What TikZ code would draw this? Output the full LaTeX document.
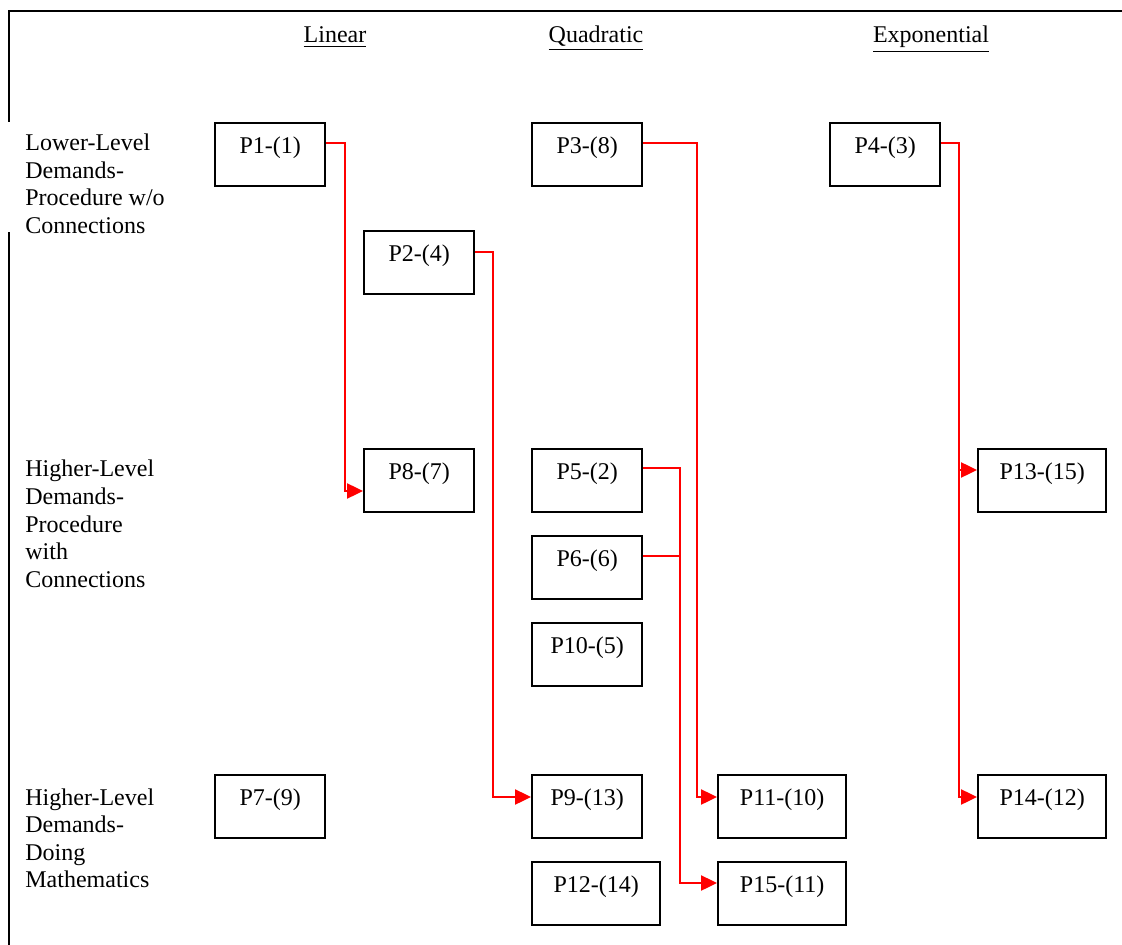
\documentclass[tikz,border=0pt]{standalone}
\usepackage{fontspec}
\setmainfont{Liberation Serif}
\usetikzlibrary{arrows.meta}
\tikzset{
  pbox/.style={draw, line width=1.2pt, inner xsep=0pt, inner ysep=0pt,
    text height=15pt, text depth=16.5pt, minimum width=55pt, anchor=north west},
  wbox/.style={pbox, minimum width=64pt},
  conn/.style={draw=red, line width=1.2pt, -{Triangle[length=8pt,width=7.5pt]}},
  plain/.style={draw=red, line width=1.2pt},
  rowlabel/.style={anchor=base west, inner sep=0pt, align=left},
  head/.style={anchor=base, inner sep=0pt},
  frame/.style={draw=black, line width=1.2pt}
}
\begin{document}
\begin{tikzpicture}[x=0.5pt, y=-0.5pt, font=\fontsize{12}{13.75}\selectfont]
\useasboundingbox (0,0) rectangle (1122,945);
% frame
\draw[frame] (9,945) -- (9,232);
\draw[frame] (9,122) -- (9,11) -- (1122,11);
% headers
\node[head] (hl) at (335,43) {\underline{Linear}};
\node[head] (hq) at (596,43) {\underline{Quadratic}};
\node[head] (he) at (931,43) {\underline{Exponential}};
% row labels (anchored at the baseline of their last line)
\node[rowlabel] (r1) at (25,233.5) {Lower-Level\\Demands-\\Procedure w/o\\Connections};
\node[rowlabel] (r2) at (25,587) {Higher-Level\\Demands-\\Procedure\\with\\Connections};
\node[rowlabel] (r3) at (25,887.5) {Higher-Level\\Demands-\\Doing\\Mathematics};
% boxes
\node[pbox] (P1) at (214,122) {P1-(1)};
\node[pbox] (P2) at (363,230) {P2-(4)};
\node[pbox] (P3) at (531,122) {P3-(8)};
\node[pbox] (P4) at (829,122) {P4-(3)};
\node[pbox] (P8) at (363,448) {P8-(7)};
\node[pbox] (P5) at (531,448) {P5-(2)};
\node[pbox] (P6) at (531,535) {P6-(6)};
\node[pbox] (P10) at (531,622) {P10-(5)};
\node[wbox] (P13) at (977,448) {P13-(15)};
\node[pbox] (P7) at (214,774) {P7-(9)};
\node[pbox] (P9) at (531,774) {P9-(13)};
\node[wbox] (P11) at (717,774) {P11-(10)};
\node[wbox] (P14) at (977,774) {P14-(12)};
\node[wbox] (P12) at (531,861) {P12-(14)};
\node[wbox] (P15) at (717,861) {P15-(11)};
% connector points
\coordinate (P1o) at ([yshift=-10.5pt]P1.north east);
\coordinate (P2o) at ([yshift=-11pt]P2.north east);
\coordinate (P3o) at ([yshift=-10.5pt]P3.north east);
\coordinate (P4o) at ([yshift=-10.5pt]P4.north east);
\coordinate (P5o) at ([yshift=-10pt]P5.north east);
\coordinate (P6o) at ([yshift=-10.5pt]P6.north east);
\coordinate (P8i) at ([yshift=-21.5pt]P8.north west);
\coordinate (P9i) at ([yshift=-11.5pt]P9.north west);
\coordinate (P11i) at ([yshift=-11.5pt]P11.north west);
\coordinate (P15i) at ([yshift=-11pt]P15.north west);
\coordinate (P13i) at ([yshift=-11pt]P13.north west);
\coordinate (P14i) at ([yshift=-11.5pt]P14.north west);
\coordinate (v1) at (345,0);
\coordinate (v2) at (493,0);
\coordinate (v3) at (697,0);
\coordinate (v4) at (959,0);
\coordinate (v5) at (680,0);
% connectors
\draw[conn] (P1o) -| (v1 |- P8i) -- (P8i);
\draw[conn] (P2o) -| (v2 |- P9i) -- (P9i);
\draw[conn] (P3o) -| (v3 |- P11i) -- (P11i);
\draw[conn] (P5o) -| (v5 |- P15i) -- (P15i);
\draw[plain] (P6o) -- (v5 |- P6o);
\draw[conn] (P4o) -| (v4 |- P14i) -- (P14i);
\draw[conn] (v4 |- P13i) -- (P13i);
\end{tikzpicture}
\end{document}
